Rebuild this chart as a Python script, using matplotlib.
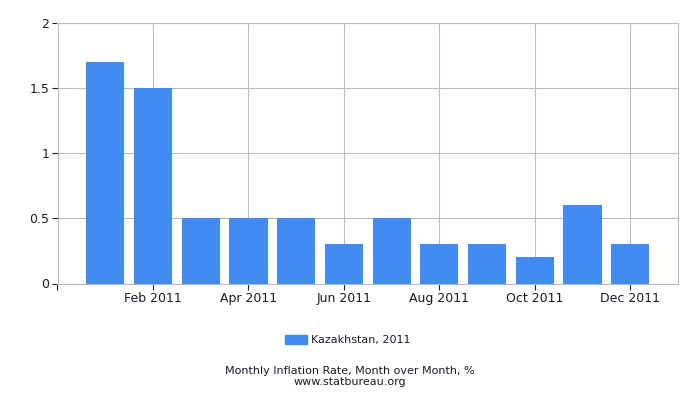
import matplotlib.pyplot as plt
import matplotlib.patches as mpatches

months = ['Jan', 'Feb', 'Mar', 'Apr', 'May', 'Jun', 'Jul', 'Aug', 'Sep', 'Oct', 'Nov', 'Dec']
values = [1.7, 1.5, 0.5, 0.5, 0.5, 0.3, 0.5, 0.3, 0.3, 0.2, 0.6, 0.3]
tick_idx = [1, 3, 5, 7, 9, 11]
tick_labels = ['Feb 2011', 'Apr 2011', 'Jun 2011', 'Aug 2011', 'Oct 2011', 'Dec 2011']
yticks = [0, 0.5, 1, 1.5, 2]
ylabels = ['0', '0.5', '1', '1.5', '2']

bar_color = '#418cf0'
text_color = '#1a1a2e'
grid_color = '#bbbbbb'

fig = plt.figure(figsize=(7, 4), dpi=100)
ax = fig.add_axes([57.5 / 700, 1 - 283.5 / 400, (678 - 57.5) / 700, (283.5 - 22.5) / 400])

x = list(range(len(values)))
ax.bar(x, values, width=0.8, color=bar_color, zorder=3)

ax.set_xlim(-1, 12)
ax.set_ylim(0, 2)
ax.set_xticks(tick_idx)
ax.set_xticklabels(tick_labels, fontsize=9, color=text_color)
ax.set_xticks([-1], minor=True)
ax.set_yticks(yticks)
ax.set_yticklabels(ylabels, fontsize=9, color=text_color)
ax.grid(True, which='major', color=grid_color, linewidth=0.8, zorder=0)
ax.tick_params(axis='both', which='both', length=4, color='#222222', width=0.8, pad=2)

for s in ax.spines.values():
    s.set_color(grid_color)
    s.set_linewidth(0.8)

handle = mpatches.Patch(color=bar_color, label='Kazakhstan, 2011')
fig.legend(handles=[handle], loc='center', bbox_to_anchor=(0.497, 1 - 340 / 400),
           frameon=False, fontsize=8, handlelength=2.0, handleheight=0.9,
           handletextpad=0.4, labelcolor=text_color)

fig.text(0.5, 1 - 371 / 400, 'Monthly Inflation Rate, Month over Month, %',
         ha='center', va='center', fontsize=8, color=text_color)
fig.text(0.5, 1 - 382 / 400, 'www.statbureau.org',
         ha='center', va='center', fontsize=8, color=text_color)

fig.savefig('out.png', dpi=100)
